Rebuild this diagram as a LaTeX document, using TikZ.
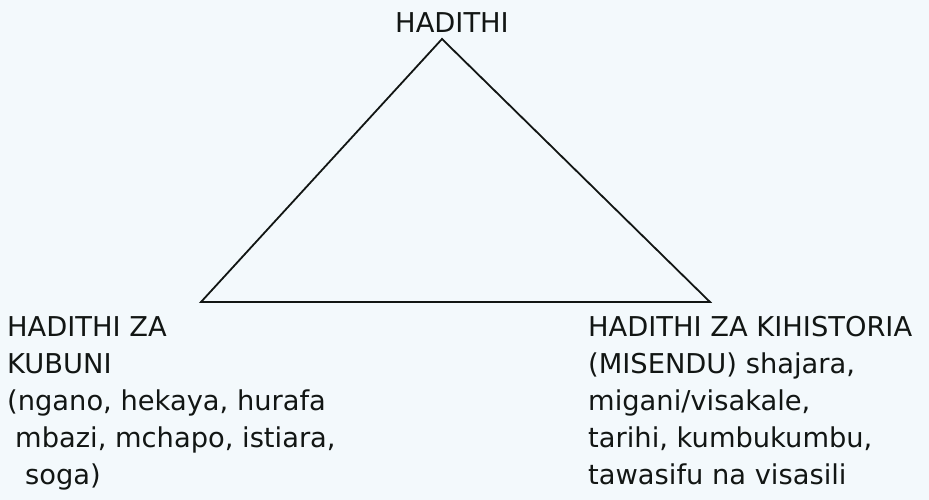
\documentclass[tikz,border=0pt]{standalone}
\usepackage{fontspec}
\setmainfont{DejaVu Sans}
\definecolor{paper}{RGB}{243,249,252}
\definecolor{ink}{RGB}{18,22,20}
\tikzstyle{heading} = [anchor=base, inner sep=0pt, text=ink, font=\fontsize{27.3}{37}\selectfont]
\tikzstyle{kind} = [anchor=north west, inner sep=0pt, align=left, text=ink, font=\fontsize{27.3}{37}\selectfont]
\tikzstyle{side} = [draw=ink, line width=1.8pt, line join=miter]

\begin{document}
\begin{tikzpicture}
[x=1pt, y=-1pt]

\fill [paper] (0,0) rectangle (929,500);
\useasboundingbox (0,0) rectangle (929,500);

\coordinate (top) at (442,39);
\coordinate (bl) at (201,302);
\coordinate (br) at (710,302);

\node (hadithi) [heading] at (452,33) {HADITHI};
\node (kubuni) [kind] at (7,316) {HADITHI ZA\\KUBUNI\\(ngano, hekaya, hurafa\\\hspace*{8pt}mbazi, mchapo, istiara,\\\hspace*{18pt}soga)};
\node (kihistoria) [kind] at (588,316) {HADITHI ZA KIHISTORIA\\(MISENDU) shajara,\\migani/visakale,\\tarihi, kumbukumbu,\\tawasifu na visasili};

\draw [side] (top) -- (bl) -- (br) -- cycle;

\end{tikzpicture}
\end{document}
